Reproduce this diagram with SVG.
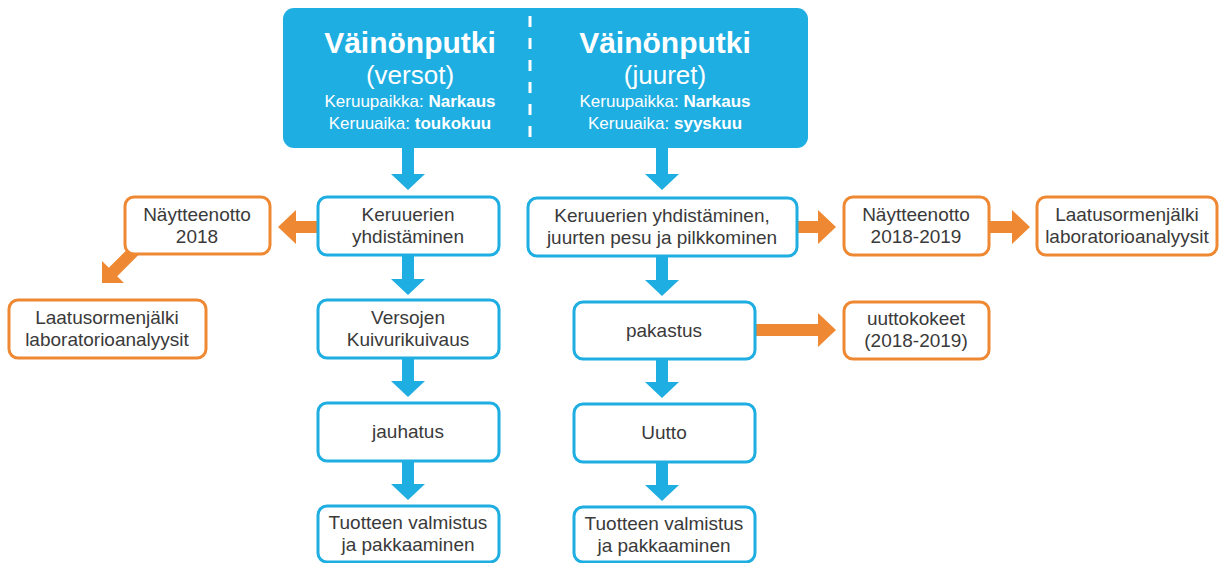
<svg xmlns="http://www.w3.org/2000/svg" width="1222" height="563" viewBox="0 0 1222 563">
<style>
.bx{fill:#fff;stroke-width:3}
.b{stroke:#1eaee2}
.o{stroke:#ef8832}
.t{font-family:"Liberation Sans",Arial,sans-serif;font-size:19px;fill:#3a3a3a;text-anchor:middle}
.h{font-family:"Liberation Sans",Arial,sans-serif;fill:#fff;text-anchor:middle}
.h1{font-size:30px;font-weight:bold}
.h2{font-size:26px}
.h3{font-size:17px}
.bd{font-weight:bold}
.ab{fill:#1eaee2}
.ao{fill:#ef8832}
</style>
<rect width="1222" height="563" fill="#fff"/>
<g id="connectors">
<polygon class="ab" points="402,147 414,147 414,174 425,174 408,190 391,174 402,174"/>
<polygon class="ab" points="402,255 414,255 414,279 425,279 408,295 391,279 402,279"/>
<polygon class="ab" points="402,358 414,358 414,381 425,381 408,397 391,381 402,381"/>
<polygon class="ab" points="402,461 414,461 414,484 425,484 408,500 391,484 402,484"/>
<polygon class="ab" points="656,147 668,147 668,174 679,174 662,190 645,174 656,174"/>
<polygon class="ab" points="656,256 668,256 668,280 679,280 662,296 645,280 656,280"/>
<polygon class="ab" points="656,359 668,359 668,382 679,382 662,398 645,382 656,382"/>
<polygon class="ab" points="656,462 668,462 668,485 679,485 662,501 645,485 656,485"/>
<polygon class="ao" points="318,221 296,221 296,210 278,227 296,244 296,233 318,233"/>
<polygon class="ao" points="108.8,267.8 131.8,244.8 140.2,253.2 117.2,276.2 124,283 102,283 102,261"/>
<polygon class="ao" points="797,221 818,221 818,210 836,227 818,244 818,233 797,233"/>
<polygon class="ao" points="988,221 1012,221 1012,210 1030,227 1012,244 1012,233 988,233"/>
<polygon class="ao" points="755,324 818,324 818,313 836,330 818,347 818,336 755,336"/>
</g>
<g id="header">
<rect x="283" y="8" width="525" height="140" rx="11" fill="#1eaee2"/>
<line x1="530" y1="16" x2="530" y2="144" stroke="#fff" stroke-width="3" stroke-dasharray="11,11"/>
<text class="h h1" x="410" y="53">Väinönputki</text>
<text class="h h2" x="410" y="84">(versot)</text>
<text class="h h3" x="410" y="107">Keruupaikka: <tspan class="bd">Narkaus</tspan></text>
<text class="h h3" x="410" y="129">Keruuaika: <tspan class="bd">toukokuu</tspan></text>
<text class="h h1" x="665" y="53">Väinönputki</text>
<text class="h h2" x="665" y="84">(juuret)</text>
<text class="h h3" x="665" y="107">Keruupaikka: <tspan class="bd">Narkaus</tspan></text>
<text class="h h3" x="665" y="129">Keruuaika: <tspan class="bd">syyskuu</tspan></text>
</g>
<g id="n-keruuerien">
<rect class="bx b" x="318" y="197" width="181" height="58" rx="9"/>
<text class="t" x="408" y="221">Keruuerien</text>
<text class="t" x="408" y="243">yhdistäminen</text>
</g>
<g id="n-naytteenotto2018">
<rect class="bx o" x="125" y="197" width="145" height="57" rx="9"/>
<text class="t" x="197" y="221">Näytteenotto</text>
<text class="t" x="197" y="243">2018</text>
</g>
<g id="n-laatu-left">
<rect class="bx o" x="9" y="300" width="197" height="58" rx="9"/>
<text class="t" x="107" y="324">Laatusormenjälki</text>
<text class="t" x="107" y="346">laboratorioanalyysit</text>
</g>
<g id="n-versojen">
<rect class="bx b" x="318" y="300" width="181" height="58" rx="9"/>
<text class="t" x="408" y="324">Versojen</text>
<text class="t" x="408" y="346">Kuivurikuivaus</text>
</g>
<g id="n-jauhatus">
<rect class="bx b" x="318" y="403" width="181" height="58" rx="9"/>
<text class="t" x="408" y="438">jauhatus</text>
</g>
<g id="n-tuotteen-left">
<rect class="bx b" x="318" y="506" width="181" height="56" rx="9"/>
<text class="t" x="408" y="529">Tuotteen valmistus</text>
<text class="t" x="408" y="551">ja pakkaaminen</text>
</g>
<g id="n-keruuerien-juuret">
<rect class="bx b" x="528" y="198" width="269" height="58" rx="9"/>
<text class="t" x="662" y="222">Keruuerien yhdistäminen,</text>
<text class="t" x="662" y="244">juurten pesu ja pilkkominen</text>
</g>
<g id="n-naytteenotto2019">
<rect class="bx o" x="844" y="197" width="145" height="58" rx="9"/>
<text class="t" x="916" y="221">Näytteenotto</text>
<text class="t" x="916" y="243">2018-2019</text>
</g>
<g id="n-laatu-right">
<rect class="bx o" x="1037" y="197" width="180" height="58" rx="9"/>
<text class="t" x="1127" y="221">Laatusormenjälki</text>
<text class="t" x="1127" y="243">laboratorioanalyysit</text>
</g>
<g id="n-pakastus">
<rect class="bx b" x="574" y="302" width="181" height="57" rx="9"/>
<text class="t" x="664" y="337">pakastus</text>
</g>
<g id="n-uuttokokeet">
<rect class="bx o" x="844" y="302" width="145" height="57" rx="9"/>
<text class="t" x="916" y="325">uuttokokeet</text>
<text class="t" x="916" y="347">(2018-2019)</text>
</g>
<g id="n-uutto">
<rect class="bx b" x="574" y="404" width="181" height="58" rx="9"/>
<text class="t" x="664" y="439">Uutto</text>
</g>
<g id="n-tuotteen-right">
<rect class="bx b" x="574" y="507" width="181" height="55" rx="9"/>
<text class="t" x="664" y="530">Tuotteen valmistus</text>
<text class="t" x="664" y="552">ja pakkaaminen</text>
</g>
</svg>
